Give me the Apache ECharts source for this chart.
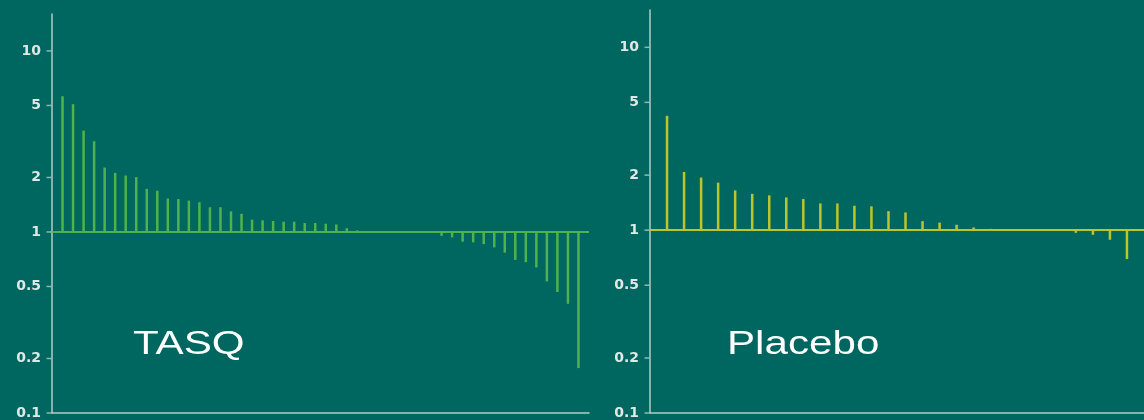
<!DOCTYPE html>
<html>
<head>
<meta charset="utf-8">
<style>
  html, body { margin: 0; padding: 0; background: #006660; }
  #chart { width: 1144px; height: 420px; }
</style>
<script src="https://cdn.jsdelivr.net/npm/echarts@6/dist/echarts.min.js"></script>
</head>
<body>
<div id="chart"></div>
<script>
// Per-patient response ratios, sorted from largest increase to largest decrease
const tasqValues = [
  5.62, 5.08, 3.63, 3.17, 2.27, 2.12, 2.05, 2.01, 1.73, 1.69,
  1.53, 1.52, 1.49, 1.46, 1.37, 1.37, 1.30, 1.26, 1.17, 1.16,
  1.15, 1.14, 1.14, 1.12, 1.12, 1.11, 1.10, 1.05, 1.02, 1.0,
  1.0, 1.0, 1.0, 1.0, 1.0, 1.0, 0.953, 0.933, 0.884, 0.876,
  0.857, 0.822, 0.769, 0.701, 0.681, 0.637, 0.533, 0.466, 0.401, 0.177
];
const placeboValues = [
  4.22, 2.08, 1.94, 1.82, 1.65, 1.58, 1.55, 1.51, 1.48, 1.40,
  1.40, 1.36, 1.35, 1.27, 1.25, 1.12, 1.10, 1.07, 1.035, 1.017,
  1.015, 1.0, 1.0, 0.995, 0.967, 0.943, 0.886, 0.695
];
const yTicks = [0.1, 0.2, 0.5, 1, 2, 5, 10];
const panelTitles = ['TASQ', 'Placebo'];

const Y_MIN = 0.1;
const Y_MAX = 16;

const BG = '#006660';
const AXIS = '#b3cbc7';
const LABEL = '#dfe8e6';
const GREEN = '#50b24c';
const YELLOW = '#bcc62a';

function yAxisFor(gridIndex) {
  return {
    type: 'log',
    logBase: 10,
    gridIndex: gridIndex,
    min: Y_MIN,
    max: Y_MAX,
    axisLine: { show: true, lineStyle: { color: AXIS, width: 1.5 } },
    axisTick: { show: false },
    axisLabel: {
      customValues: yTicks,
      color: LABEL,
      fontFamily: 'DejaVu Sans',
      fontWeight: 'bold',
      fontSize: 14,
      margin: 11,
      formatter: v => String(v)
    },
    splitLine: { show: false },
    minorTick: { show: false },
    minorSplitLine: { show: false }
  };
}

function xAxisFor(gridIndex, count) {
  return {
    type: 'value',
    gridIndex: gridIndex,
    min: 0,
    max: count + 1,
    axisLine: { show: true, onZero: false, lineStyle: { color: AXIS, width: 1.5 } },
    axisTick: { show: false },
    axisLabel: { show: false },
    splitLine: { show: false }
  };
}

function barSeries(values, idx, color) {
  return {
    type: 'bar',
    xAxisIndex: idx,
    yAxisIndex: idx,
    barWidth: 2.5,
    itemStyle: { color: color },
    data: values.map((v, i) => [i + 1, v]),
    markLine: {
      silent: true,
      symbol: 'none',
      label: { show: false },
      lineStyle: { color: color, width: 2, type: 'solid' },
      data: [{ yAxis: 1 }]
    }
  };
}

// Short outward tick marks on the y axis, one per labelled value
function tickMarks(idx) {
  return {
    type: 'scatter',
    xAxisIndex: idx,
    yAxisIndex: idx,
    silent: true,
    clip: false,
    symbol: 'rect',
    symbolSize: [5, 1.5],
    symbolOffset: [-3, 0],
    itemStyle: { color: AXIS },
    z: 1,
    data: yTicks.map(t => [0, t])
  };
}

const chart = echarts.init(document.getElementById('chart'), null, { renderer: 'canvas' });
chart.setOption({
  animation: false,
  backgroundColor: BG,
  grid: [
    { left: 52, top: 14, width: 537, bottom: 4 },
    { left: 650, top: 10, right: -16, bottom: 4 }
  ],
  xAxis: [xAxisFor(0, tasqValues.length), xAxisFor(1, placeboValues.length)],
  yAxis: [yAxisFor(0), yAxisFor(1)],
  series: [
    barSeries(tasqValues, 0, GREEN),
    barSeries(placeboValues, 1, YELLOW),
    tickMarks(0),
    tickMarks(1)
  ],
  graphic: [
    {
      type: 'text', x: 133, y: 345, scaleX: 1.24,
      style: { text: panelTitles[0], fill: '#ffffff', font: '34px "Liberation Sans"', align: 'left', verticalAlign: 'middle' }
    },
    {
      type: 'text', x: 727, y: 345, scaleX: 1.24,
      style: { text: panelTitles[1], fill: '#ffffff', font: '34px "Liberation Sans"', align: 'left', verticalAlign: 'middle' }
    }
  ]
});
</script>
</body>
</html>
